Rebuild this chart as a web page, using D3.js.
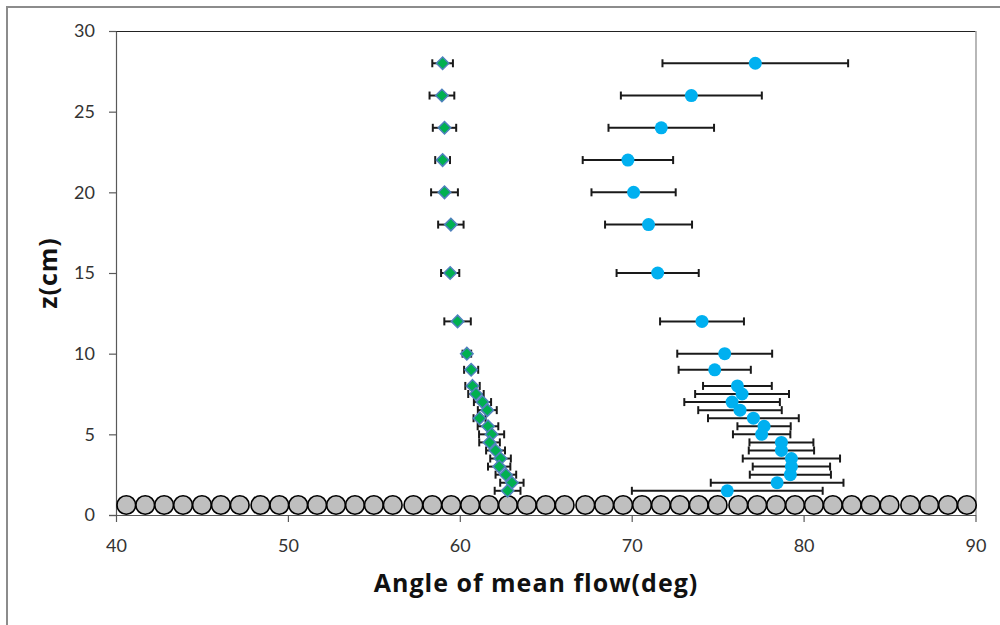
<!DOCTYPE html>
<html>
<head>
<meta charset="utf-8">
<script src="https://cdn.jsdelivr.net/npm/d3@7"></script>
<style>
  html, body { margin: 0; padding: 0; background: #fff; }
  svg { display: block; }
  text { font-family: Lato, "Open Sans", sans-serif; }
</style>
</head>
<body>
<svg id="chart" width="1000" height="625"></svg>
<script>
// ---- data ----
const zLevels = [28, 26, 24, 22, 20, 18, 15, 12, 10, 9, 8, 7.5, 7, 6.5, 6, 5.5, 5, 4.5, 4, 3.5, 3, 2.5, 2, 1.5];
const angleDiamond = [59.0, 58.96, 59.11, 59.0, 59.11, 59.48, 59.44, 59.87, 60.41, 60.66, 60.74, 60.94, 61.32, 61.6, 61.15, 61.64, 61.85, 61.73, 62.08, 62.37, 62.29, 62.68, 63.03, 62.78];
const errDiamond = [0.6, 0.72, 0.68, 0.43, 0.78, 0.74, 0.53, 0.77, 0.25, 0.41, 0.42, 0.45, 0.5, 0.55, 0.35, 0.6, 0.73, 0.6, 0.55, 0.6, 0.65, 0.6, 0.68, 0.75];
const angleCircle = [77.19, 73.47, 71.72, 69.78, 70.11, 70.98, 71.51, 74.09, 75.41, 74.83, 76.15, 76.42, 75.84, 76.3, 77.08, 77.7, 77.56, 78.71, 78.71, 79.29, 79.29, 79.23, 78.46, 75.56];
const errCircle = [5.4, 4.1, 3.07, 2.63, 2.45, 2.53, 2.39, 2.44, 2.76, 2.1, 2.0, 2.73, 2.78, 2.43, 2.64, 1.55, 1.67, 1.86, 1.9, 2.83, 2.25, 2.36, 3.86, 5.55];
const bedAngle = [40.6, 41.7, 42.8, 43.9, 45.0, 46.1, 47.2, 48.4, 49.5, 50.6, 51.7, 52.8, 53.9, 55.0, 56.1, 57.3, 58.4, 59.5, 60.6, 61.7, 62.8, 63.9, 65.0, 66.1, 67.3, 68.4, 69.5, 70.6, 71.7, 72.8, 73.9, 75.0, 76.2, 77.3, 78.4, 79.5, 80.6, 81.7, 82.8, 83.9, 85.0, 86.2, 87.3, 88.4, 89.5];
const bedZ = [0.62];
const xTicks = [40, 50, 60, 70, 80, 90];
const yTicks = [0, 5, 10, 15, 20, 25, 30];
const xTitle = "Angle of mean flow(deg)";
const yTitle = "z(cm)";

// ---- layout ----
const svg = d3.select("#chart");
const L = 116, R = 975.5, T = 31, B = 515;
const x = d3.scaleLinear().domain([40, 90]).range([L, R]);
const y = d3.scaleLinear().domain([0, 30]).range([B, T]);

// outer border
svg.append("rect").attr("x", 7).attr("y", 7).attr("width", 1000).attr("height", 640)
  .attr("fill", "#fff").attr("stroke", "#8c8c8c").attr("stroke-width", 2);

// plot frame (top / right)
svg.append("line").attr("x1", L).attr("x2", R).attr("y1", T + 0.5).attr("y2", T + 0.5)
  .attr("stroke", "#222").attr("stroke-width", 1.2);
svg.append("line").attr("x1", R + 0.5).attr("x2", R + 0.5).attr("y1", T).attr("y2", B)
  .attr("stroke", "#888").attr("stroke-width", 1.2);

// axes
const xAxis = svg.append("g").attr("transform", `translate(0,${B})`)
  .call(d3.axisBottom(x).tickValues(xTicks).tickSize(7).tickSizeOuter(0).tickPadding(17));
const yAxis = svg.append("g").attr("transform", `translate(${L},0)`)
  .call(d3.axisLeft(y).tickValues(yTicks).tickSize(7).tickSizeOuter(0).tickPadding(14));
[xAxis, yAxis].forEach(g => {
  g.select(".domain").attr("stroke", "#595959").attr("stroke-width", 1.2);
  g.selectAll(".tick line").attr("stroke", "#595959").attr("stroke-width", 1.2);
  g.selectAll(".tick text").attr("fill", "#333").style("font-size", "18px").style("font-family", "Lato, sans-serif");
});
// extend x axis domain to y=0 tick on the left
svg.append("line").attr("x1", L - 7).attr("x2", L).attr("y1", B + 0.5).attr("y2", B + 0.5)
  .attr("stroke", "#595959").attr("stroke-width", 1.2);

// bed circles
svg.append("g").selectAll("circle").data(bedAngle).join("circle")
  .attr("cx", d => x(d)).attr("cy", y(bedZ[0])).attr("r", 9.3)
  .attr("fill", "#bfbfbf").attr("stroke", "#000").attr("stroke-width", 1.6);

function errorBars(angles, errs, cls) {
  const g = svg.append("g").attr("class", cls);
  const d = angles.map((a, i) => ({ a, e: errs[i], z: zLevels[i] }));
  g.selectAll("line.h").data(d).join("line").attr("class", "h")
    .attr("x1", p => x(p.a - p.e)).attr("x2", p => x(p.a + p.e))
    .attr("y1", p => y(p.z)).attr("y2", p => y(p.z))
    .attr("stroke", "#1a1a1a").attr("stroke-width", 2);
  ["l", "r"].forEach(side => {
    g.selectAll("line." + side).data(d).join("line").attr("class", side)
      .attr("x1", p => x(side === "l" ? p.a - p.e : p.a + p.e))
      .attr("x2", p => x(side === "l" ? p.a - p.e : p.a + p.e))
      .attr("y1", p => y(p.z) - 4).attr("y2", p => y(p.z) + 4)
      .attr("stroke", "#1a1a1a").attr("stroke-width", 2);
  });
}
errorBars(angleDiamond, errDiamond, "errD");
errorBars(angleCircle, errCircle, "errC");

// diamonds
svg.append("g").selectAll("path").data(angleDiamond).join("path")
  .attr("d", d3.symbol(d3.symbolDiamond2, 100))
  .attr("transform", (d, i) => `translate(${x(d)},${y(zLevels[i])})`)
  .attr("fill", "#00b050").attr("stroke", "#4f81bd").attr("stroke-width", 1.5);

// circles
svg.append("g").selectAll("circle").data(angleCircle).join("circle")
  .attr("cx", d => x(d)).attr("cy", (d, i) => y(zLevels[i])).attr("r", 6.5)
  .attr("fill", "#00b0f0");

// titles
svg.append("text").attr("x", 536).attr("y", 592).attr("text-anchor", "middle")
  .style("font-family", "'Open Sans', sans-serif").style("letter-spacing", "1px")
  .style("font-size", "25px").style("font-weight", "bold").attr("fill", "#111").text(xTitle);
svg.append("text").attr("transform", "translate(57,273) rotate(-90)").attr("text-anchor", "middle")
  .style("font-family", "'Open Sans', sans-serif").style("letter-spacing", "1px")
  .style("font-size", "25px").style("font-weight", "bold").attr("fill", "#111").text(yTitle);
</script>
</body>
</html>
